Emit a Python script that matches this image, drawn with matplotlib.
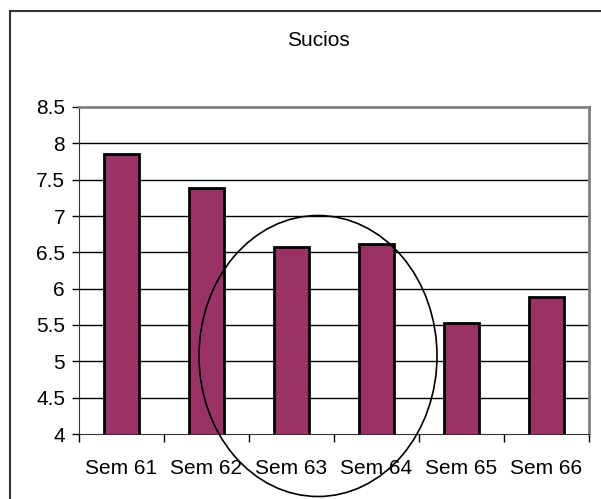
import matplotlib.pyplot as plt
from matplotlib.patches import Ellipse
from matplotlib.lines import Line2D

semanas = ["Sem 61", "Sem 62", "Sem 63", "Sem 64", "Sem 65", "Sem 66"]
valores = [7.86, 7.38, 6.57, 6.62, 5.53, 5.88]
ticksY = [4, 4.5, 5, 5.5, 6, 6.5, 7, 7.5, 8, 8.5]
ticksYLabels = ["4", "4.5", "5", "5.5", "6", "6.5", "7", "7.5", "8", "8.5"]

plt.rcParams["font.family"] = ["Liberation Sans", "DejaVu Sans"]

W, H = 601, 499
fig = plt.figure(figsize=(W / 100, H / 100), dpi=100)
ax = fig.add_axes([79 / W, 1 - 434 / H, 510 / W, 327 / H])

x = range(len(semanas))
ax.bar(x, valores, width=0.41, color="#993366", edgecolor="black", linewidth=2, zorder=3)

ax.set_ylim(4, 8.5)
ax.set_xlim(-0.5, len(semanas) - 0.5)
ax.set_yticks(ticksY)
ax.set_yticklabels(ticksYLabels, fontsize=15)
for y in ticksY[1:-1]:
    ax.axhline(y, color="black", linewidth=1, zorder=1)

ax.set_xticks([i - 0.5 for i in range(len(semanas) + 1)])
ax.set_xticklabels([])
ax.set_xticks(list(x), minor=True)
ax.set_xticklabels(semanas, minor=True, fontsize=15)
ax.tick_params(axis="x", which="minor", length=0, pad=18)
ax.tick_params(axis="x", which="major", length=6, width=1, color="black", direction="out")
ax.tick_params(axis="y", length=5, width=1, direction="out", pad=5)

ax.spines["left"].set_color("#333333")
ax.spines["bottom"].set_color("#333333")
ax.spines["top"].set_color("#808080")
ax.spines["right"].set_color("#808080")
ax.spines["top"].set_linewidth(2)
ax.spines["right"].set_linewidth(2)

fig.text(318 / W, 1 - 40 / H, "Sucios", ha="center", va="center", fontsize=15)

# moldura externa
fig.add_artist(Line2D([10 / W, 10 / W], [1 - 11 / H, 0], transform=fig.transFigure, color="#333333", linewidth=1.5))
fig.add_artist(Line2D([10 / W, 1], [1 - 11 / H, 1 - 11 / H], transform=fig.transFigure, color="#333333", linewidth=1.5))

# elipse
fig.add_artist(Ellipse((318 / W, 1 - 356 / H), 238 / W, 281 / H, transform=fig.transFigure,
                       fill=False, edgecolor="black", linewidth=1.2, zorder=5))

fig.savefig("out.png", dpi=100)
